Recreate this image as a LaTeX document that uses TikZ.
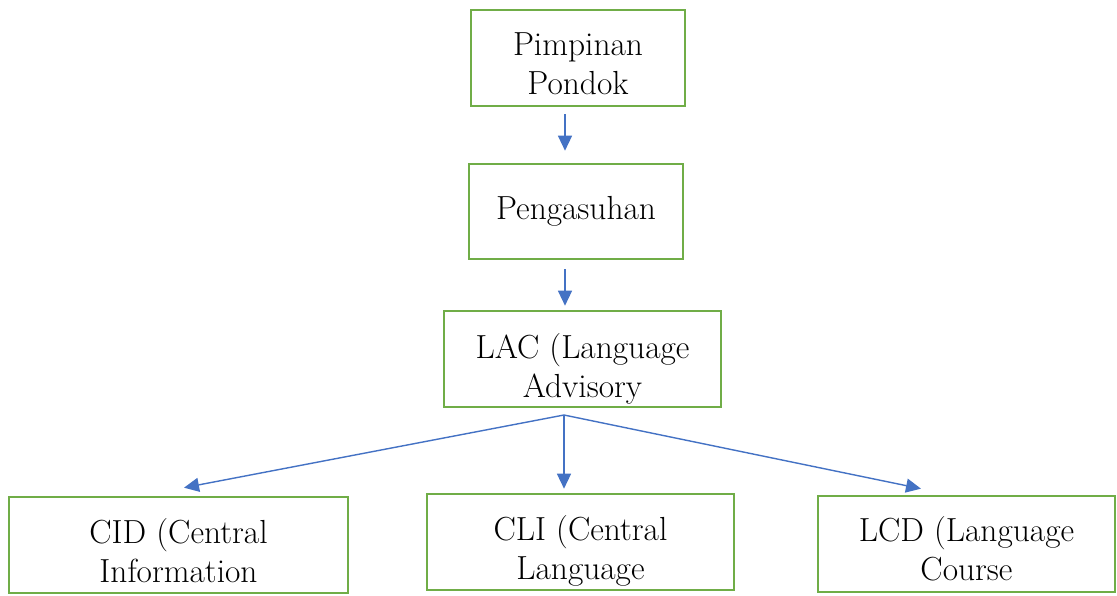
\documentclass[tikz,border=0pt]{standalone}
\usepackage{tikz}
\usepackage{xcolor}
\usetikzlibrary{arrows.meta,calc}
\definecolor{boxgreen}{HTML}{70AD47}
\definecolor{arrblue}{HTML}{4472C4}

\begin{document}
\begin{tikzpicture}[x=0.2mm,y=-0.2mm,
            box/.style={draw=boxgreen, line width=1.5pt, minimum height=19.2mm, inner sep=0pt,
                font=\fontsize{19}{22}\selectfont},
            txt/.style={anchor=base, align=center, inner sep=0pt, font=\fontsize{19}{22}\selectfont},
            arr/.style={arrblue, line width=0.8pt, -{Triangle[length=3mm,width=2.8mm]}}]
            \useasboundingbox (0,0) rectangle (1117,595);
            \node[box, minimum width=42.8mm, path picture={\node[txt] at ([yshift=-16.8mm]path picture bounding box.north) {Pimpinan\\Pondok};}] (pim) at (578,58) {};
            \node[box, minimum width=42.8mm, minimum height=19mm] (peng) at (576,211.5) {Pengasuhan};
            \node[box, minimum width=55.4mm, path picture={\node[txt] at ([yshift=-17.2mm]path picture bounding box.north) {LAC (Language\\Advisory};}] (lac) at (582.5,359) {};
            \node[box, minimum width=67.8mm, path picture={\node[txt] at ([yshift=-17mm]path picture bounding box.north) {CID (Central\\Information};}] (cid) at (178.5,545) {};
            \node[box, minimum width=61.4mm, path picture={\node[txt] at ([yshift=-17mm]path picture bounding box.north) {CLI (Central\\Language};}] (cli) at (580.5,542) {};
            \node[box, minimum width=59.4mm, path picture={\node[txt] at ([yshift=-16.8mm]path picture bounding box.north) {LCD (Language\\Course};}] (lcd) at (966.5,544) {};
            \coordinate (fork) at (564,415);
            \draw[arr] ($(pim.south -| fork)+(1,7)$) -- ($(peng.north -| fork)+(1,-12)$);
            \draw[arr] ($(peng.south -| fork)+(1,9)$) -- ($(lac.north -| fork)+(1,-4)$);
            \draw[arr] (fork) -- ($(cid.north)+(5.5,-8)$);
            \draw[arr] (fork) -- ($(cli.north -| fork)+(0,-4)$);
            \draw[arr] (fork) -- ($(lcd.north)+(-45.5,-6)$);
        \end{tikzpicture}
\end{document}
